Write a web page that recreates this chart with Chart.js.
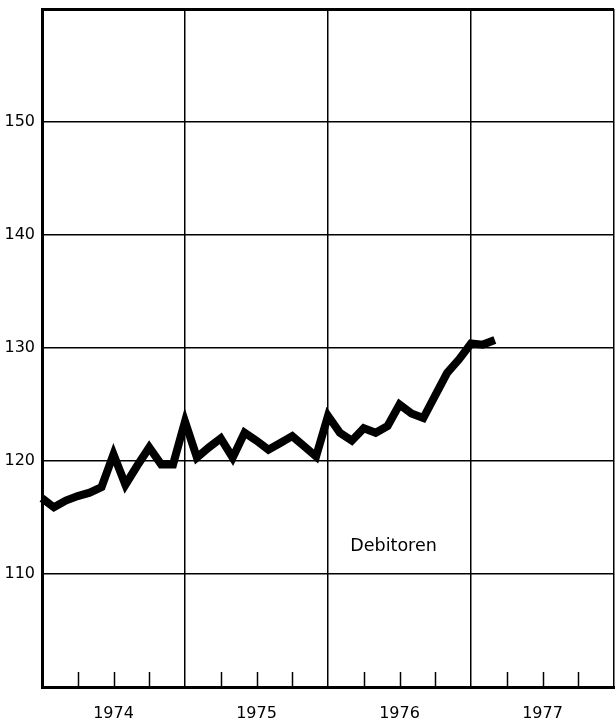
<!DOCTYPE html>
<html>
<head>
<meta charset="utf-8">
<script src="https://cdn.jsdelivr.net/npm/chart.js@4/dist/chart.umd.min.js"></script>
<style>
  body { margin: 0; background: #fff; }
  canvas { display: block; }
</style>
</head>
<body>
<canvas id="grafik" width="615" height="725"></canvas>
<script>
// Monatswerte Jan 1974 - Mär 1977
const jahre = ['1974', '1975', '1976', '1977'];
const debitoren = [
  116.7, 115.9, 116.5, 116.9, 117.2, 117.7, 120.6, 117.9, 119.6, 121.2, 119.7, 119.7,
  123.5, 120.3, 121.2, 122.0, 120.3, 122.5, 121.8, 121.0, 121.6, 122.2, 121.3, 120.4,
  124.0, 122.5, 121.8, 122.9, 122.5, 123.1, 125.0, 124.2, 123.8, 125.8, 127.8, 129.0,
  130.4, 130.3, 130.7
];
const yMin = 100, yMax = 160, yStep = 10;
const yLabels = [110, 120, 130, 140, 150];
const serienName = 'Debitoren';

const schrift = { family: 'DejaVu Sans, sans-serif', size: 16 };

// kurze Quartalsstriche nach oben + Beschriftung im Diagramm
const extras = {
  id: 'extras',
  afterDatasetsDraw(chart) {
    const c = chart.ctx, x = chart.scales.x, y = chart.scales.y;
    const unten = chart.chartArea.bottom;
    c.save();
    c.strokeStyle = '#000';
    c.lineWidth = 1.5;
    for (let m = 3; m < jahre.length * 12; m += 3) {
      if (m % 12 === 0) continue;
      const px = Math.round(x.getPixelForValue(m)) + 0.5;
      c.beginPath();
      c.moveTo(px, unten);
      c.lineTo(px, unten - 15);
      c.stroke();
    }
    c.fillStyle = '#000';
    c.font = '17.5px ' + schrift.family;
    c.textAlign = 'center';
    c.textBaseline = 'middle';
    c.fillText(serienName, x.getPixelForValue(29.5), y.getPixelForValue(112.4));
    c.restore();
  }
};

new Chart(document.getElementById('grafik'), {
  type: 'line',
  data: {
    datasets: [{
      label: serienName,
      data: debitoren.map((v, i) => ({ x: i, y: v })),
      borderColor: '#000',
      borderWidth: 8,
      pointRadius: 0,
      tension: 0,
      borderJoinStyle: 'miter',
      clip: false
    }]
  },
  options: {
    responsive: false,
    animation: false,
    devicePixelRatio: 1,
    layout: { padding: { top: 9, right: 1, left: 0, bottom: 0 } },
    plugins: { legend: { display: false }, tooltip: { enabled: false } },
    scales: {
      x: {
        type: 'linear',
        min: 0,
        max: jahre.length * 12,
        afterFit(s) {
          s.height = 38;
          s.paddingLeft = 0;
          s.paddingRight = 0;
        },
        afterBuildTicks(s) {
          s.ticks = [];
          for (let m = 0; m <= jahre.length * 12; m += 6) s.ticks.push({ value: m });
        },
        ticks: {
          autoSkip: false,
          maxRotation: 0,
          padding: 17,
          color: '#000',
          font: schrift,
          callback: v => (v % 12 === 6 ? jahre[(v - 6) / 12] : '')
        },
        grid: {
          drawTicks: false,
          color: c => (c.tick && c.tick.value % 12 === 0 ? '#000' : 'rgba(0,0,0,0)'),
          lineWidth: c => (c.tick && c.tick.value === 0 ? 3 : 1.5)
        },
        border: { display: true, color: '#000', width: 3 }
      },
      y: {
        min: yMin,
        max: yMax,
        afterFit(s) {
          s.width = 42;
          s.paddingTop = 0;
          s.paddingBottom = 0;
        },
        ticks: {
          stepSize: yStep,
          padding: 7,
          color: '#000',
          font: schrift,
          callback: v => (yLabels.includes(v) ? String(v) : '')
        },
        grid: {
          drawTicks: false,
          color: '#000',
          lineWidth: c => (c.tick && c.tick.value === yMax ? 3 : 1.5)
        },
        border: { display: true, color: '#000', width: 3 }
      }
    }
  },
  plugins: [extras]
});
</script>
</body>
</html>
